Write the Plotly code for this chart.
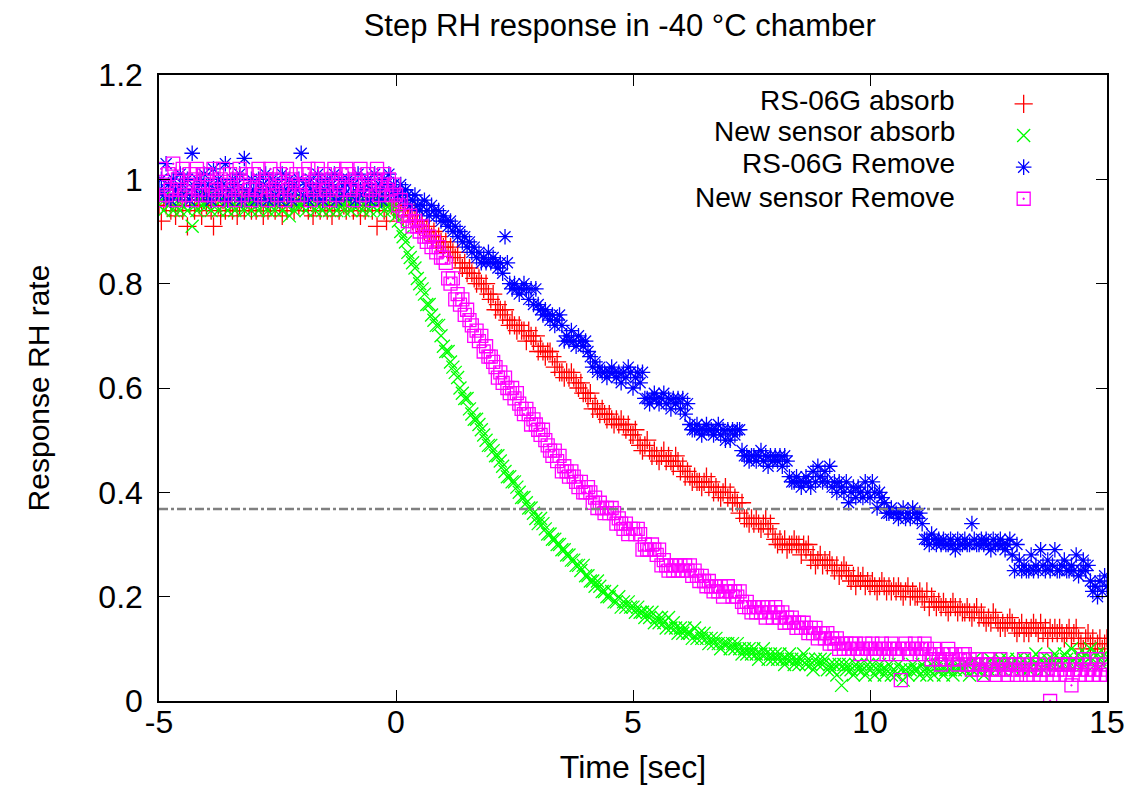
import plotly.graph_objects as go

# ---------------- data ----------------
T_START = -5.0      # first sample time [s]
T_STEP = 0.05       # sampling interval [s]; one row below = one second

rs06g_absorb = [
    0.95, 0.92, 0.96, 0.95, 0.97, 0.94, 0.96, 0.93, 0.95, 0.97, 0.94, 0.96, 0.91, 0.95, 0.97, 0.94, 0.96, 0.95, 0.93, 0.96,
    0.95, 0.96, 0.94, 0.91, 0.97, 0.95, 0.93, 0.96, 0.94, 0.97, 0.95, 0.94, 0.96, 0.93, 0.95, 0.97, 0.94, 0.96, 0.95, 0.94,
    0.96, 0.94, 0.97, 0.95, 0.93, 0.96, 0.94, 0.95, 0.97, 0.94, 0.96, 0.95, 0.93, 0.96, 0.94, 0.97, 0.95, 0.94, 0.96, 0.95,
    0.96, 0.95, 0.97, 0.94, 0.96, 0.93, 0.95, 0.97, 0.94, 0.96, 0.95, 0.94, 0.96, 0.93, 0.95, 0.97, 0.94, 0.96, 0.95, 0.94,
    0.95, 0.96, 0.94, 0.97, 0.95, 0.93, 0.96, 0.94, 0.95, 0.97, 0.94, 0.96, 0.91, 0.95, 0.97, 0.94, 0.92, 0.96, 0.95, 0.94,
    0.95, 0.94, 0.96, 0.93, 0.95, 0.94, 0.93, 0.92, 0.94, 0.92, 0.91, 0.92, 0.90, 0.91, 0.90, 0.89, 0.90, 0.88, 0.89, 0.88,
    0.87, 0.88, 0.86, 0.87, 0.86, 0.85, 0.86, 0.84, 0.83, 0.84, 0.82, 0.83, 0.82, 0.81, 0.80, 0.81, 0.80, 0.79, 0.80, 0.78,
    0.77, 0.78, 0.75, 0.76, 0.75, 0.74, 0.75, 0.73, 0.72, 0.73, 0.72, 0.71, 0.72, 0.71, 0.71, 0.69, 0.71, 0.70, 0.69, 0.70,
    0.67, 0.68, 0.67, 0.66, 0.67, 0.67, 0.66, 0.64, 0.65, 0.63, 0.63, 0.62, 0.63, 0.62, 0.63, 0.62, 0.61, 0.60, 0.61, 0.59,
    0.59, 0.58, 0.59, 0.56, 0.57, 0.56, 0.55, 0.56, 0.55, 0.54, 0.55, 0.54, 0.53, 0.54, 0.53, 0.54, 0.53, 0.52, 0.53, 0.51,
    0.51, 0.52, 0.50, 0.49, 0.48, 0.49, 0.50, 0.48, 0.47, 0.48, 0.47, 0.46, 0.47, 0.48, 0.46, 0.47, 0.46, 0.45, 0.47, 0.46,
    0.44, 0.45, 0.43, 0.44, 0.43, 0.42, 0.43, 0.42, 0.42, 0.41, 0.42, 0.43, 0.41, 0.42, 0.40, 0.41, 0.40, 0.39, 0.40, 0.41,
    0.39, 0.40, 0.38, 0.39, 0.38, 0.36, 0.38, 0.35, 0.35, 0.34, 0.35, 0.34, 0.35, 0.34, 0.33, 0.34, 0.35, 0.33, 0.34, 0.32,
    0.31, 0.30, 0.31, 0.30, 0.31, 0.29, 0.30, 0.30, 0.31, 0.30, 0.30, 0.28, 0.30, 0.29, 0.30, 0.27, 0.28, 0.26, 0.27, 0.28,
    0.26, 0.27, 0.26, 0.27, 0.26, 0.25, 0.26, 0.24, 0.25, 0.26, 0.25, 0.24, 0.23, 0.24, 0.22, 0.24, 0.23, 0.24, 0.22, 0.23,
    0.22, 0.23, 0.22, 0.21, 0.22, 0.23, 0.22, 0.21, 0.22, 0.21, 0.22, 0.21, 0.22, 0.21, 0.20, 0.21, 0.22, 0.20, 0.21, 0.20,
    0.20, 0.21, 0.20, 0.19, 0.21, 0.18, 0.20, 0.19, 0.18, 0.19, 0.18, 0.19, 0.18, 0.17, 0.18, 0.19, 0.18, 0.17, 0.18, 0.17,
    0.17, 0.18, 0.17, 0.16, 0.17, 0.18, 0.16, 0.17, 0.16, 0.15, 0.16, 0.15, 0.17, 0.16, 0.15, 0.14, 0.15, 0.14, 0.15, 0.16,
    0.15, 0.14, 0.13, 0.14, 0.15, 0.13, 0.14, 0.13, 0.14, 0.15, 0.14, 0.13, 0.15, 0.13, 0.14, 0.12, 0.14, 0.13, 0.14, 0.13,
    0.14, 0.13, 0.12, 0.13, 0.14, 0.12, 0.13, 0.14, 0.12, 0.11, 0.10, 0.12, 0.13, 0.11, 0.12, 0.10, 0.11, 0.12, 0.10, 0.11,
    0.12,
]

new_sensor_absorb = [
    0.95, 0.96, 0.94, 0.97, 0.95, 0.96, 0.94, 0.95, 0.96, 0.94, 0.95, 0.97, 0.94, 0.96, 0.91, 0.95, 0.94, 0.96, 0.95, 0.97,
    0.95, 0.96, 0.94, 0.97, 0.95, 0.94, 0.96, 0.95, 0.97, 0.94, 0.96, 0.95, 0.94, 0.96, 0.95, 0.97, 0.94, 0.95, 0.96, 0.94,
    0.96, 0.95, 0.94, 0.97, 0.95, 0.96, 0.94, 0.95, 0.96, 0.94, 0.95, 0.96, 0.94, 0.97, 0.95, 0.93, 0.96, 0.94, 0.95, 0.96,
    0.95, 0.96, 0.94, 0.97, 0.95, 0.96, 0.94, 0.95, 0.96, 0.94, 0.95, 0.97, 0.94, 0.96, 0.95, 0.94, 0.96, 0.95, 0.94, 0.96,
    0.96, 0.94, 0.95, 0.97, 0.95, 0.96, 0.94, 0.95, 0.96, 0.94, 0.95, 0.97, 0.94, 0.96, 0.95, 0.94, 0.96, 0.95, 0.94, 0.95,
    0.93, 0.92, 0.90, 0.89, 0.88, 0.86, 0.85, 0.84, 0.83, 0.81, 0.80, 0.79, 0.78, 0.76, 0.76, 0.74, 0.73, 0.72, 0.72, 0.70,
    0.68, 0.67, 0.67, 0.65, 0.64, 0.63, 0.62, 0.60, 0.59, 0.58, 0.58, 0.56, 0.55, 0.54, 0.54, 0.53, 0.52, 0.51, 0.50, 0.49,
    0.49, 0.48, 0.47, 0.47, 0.46, 0.45, 0.44, 0.43, 0.43, 0.42, 0.42, 0.41, 0.40, 0.39, 0.39, 0.38, 0.37, 0.37, 0.36, 0.35,
    0.34, 0.35, 0.34, 0.33, 0.32, 0.32, 0.31, 0.31, 0.30, 0.30, 0.29, 0.29, 0.28, 0.28, 0.27, 0.27, 0.26, 0.26, 0.25, 0.26,
    0.24, 0.24, 0.23, 0.23, 0.22, 0.23, 0.22, 0.21, 0.21, 0.20, 0.20, 0.21, 0.19, 0.19, 0.20, 0.18, 0.19, 0.18, 0.19, 0.18,
    0.18, 0.17, 0.18, 0.17, 0.17, 0.16, 0.17, 0.16, 0.17, 0.15, 0.16, 0.15, 0.16, 0.15, 0.14, 0.16, 0.14, 0.15, 0.14, 0.13,
    0.14, 0.13, 0.14, 0.13, 0.13, 0.12, 0.14, 0.12, 0.13, 0.12, 0.13, 0.12, 0.11, 0.12, 0.11, 0.12, 0.11, 0.10, 0.11, 0.11,
    0.11, 0.10, 0.11, 0.10, 0.11, 0.10, 0.09, 0.10, 0.09, 0.10, 0.09, 0.10, 0.09, 0.08, 0.09, 0.10, 0.09, 0.08, 0.09, 0.08,
    0.09, 0.08, 0.09, 0.08, 0.07, 0.08, 0.09, 0.08, 0.07, 0.08, 0.07, 0.08, 0.09, 0.07, 0.08, 0.07, 0.06, 0.08, 0.07, 0.08,
    0.07, 0.08, 0.06, 0.07, 0.06, 0.07, 0.05, 0.07, 0.03, 0.07, 0.06, 0.07, 0.06, 0.05, 0.07, 0.06, 0.07, 0.06, 0.05, 0.07,
    0.06, 0.07, 0.05, 0.06, 0.07, 0.06, 0.05, 0.06, 0.07, 0.05, 0.06, 0.05, 0.07, 0.06, 0.04, 0.06, 0.05, 0.06, 0.07, 0.06,
    0.06, 0.05, 0.07, 0.06, 0.05, 0.06, 0.07, 0.05, 0.06, 0.07, 0.06, 0.05, 0.06, 0.07, 0.06, 0.05, 0.06, 0.07, 0.06, 0.07,
    0.06, 0.07, 0.05, 0.06, 0.08, 0.06, 0.07, 0.06, 0.05, 0.07, 0.06, 0.08, 0.07, 0.06, 0.07, 0.08, 0.06, 0.07, 0.08, 0.07,
    0.07, 0.06, 0.08, 0.07, 0.06, 0.08, 0.07, 0.06, 0.08, 0.07, 0.09, 0.07, 0.08, 0.06, 0.07, 0.08, 0.07, 0.08, 0.09, 0.07,
    0.08, 0.07, 0.09, 0.08, 0.07, 0.10, 0.08, 0.07, 0.09, 0.08, 0.07, 0.09, 0.08, 0.10, 0.08, 0.07, 0.09, 0.08, 0.07, 0.09,
    0.08,
]

rs06g_remove = [
    0.98, 1.00, 0.97, 1.03, 0.99, 0.96, 1.00, 0.98, 0.97, 1.01, 0.99, 0.97, 1.00, 0.96, 1.05, 0.98, 1.00, 0.97, 0.99, 1.01,
    0.97, 0.99, 0.96, 1.02, 0.98, 1.00, 0.97, 0.99, 1.03, 0.96, 0.98, 1.00, 0.97, 0.99, 1.01, 0.96, 1.04, 0.98, 0.97, 1.00,
    0.98, 0.96, 1.00, 0.97, 0.99, 1.01, 0.96, 0.98, 1.00, 0.97, 0.99, 0.96, 1.01, 0.98, 0.97, 1.00, 0.96, 0.99, 0.98, 1.00,
    1.05, 0.97, 0.99, 0.96, 1.00, 0.98, 0.97, 1.01, 0.99, 0.96, 0.98, 1.00, 0.97, 0.99, 1.01, 0.96, 0.98, 1.00, 0.97, 0.99,
    1.00, 0.97, 0.99, 0.96, 1.01, 0.98, 0.97, 0.99, 1.00, 0.96, 0.98, 1.01, 0.97, 0.99, 0.96, 1.00, 0.98, 1.01, 0.97, 0.99,
    0.98, 0.97, 0.99, 0.96, 0.98, 0.97, 0.95, 0.96, 0.97, 0.95, 0.94, 0.95, 0.96, 0.94, 0.93, 0.95, 0.94, 0.93, 0.94, 0.92,
    0.93, 0.92, 0.91, 0.92, 0.90, 0.91, 0.89, 0.90, 0.88, 0.89, 0.87, 0.88, 0.86, 0.87, 0.85, 0.86, 0.84, 0.85, 0.84, 0.86,
    0.84, 0.85, 0.84, 0.83, 0.84, 0.82, 0.89, 0.84, 0.80, 0.79, 0.80, 0.79, 0.78, 0.79, 0.80, 0.79, 0.77, 0.79, 0.76, 0.79,
    0.76, 0.75, 0.74, 0.75, 0.74, 0.73, 0.74, 0.72, 0.73, 0.74, 0.72, 0.69, 0.70, 0.69, 0.71, 0.69, 0.68, 0.70, 0.69, 0.68,
    0.69, 0.67, 0.66, 0.64, 0.65, 0.63, 0.64, 0.63, 0.63, 0.62, 0.63, 0.64, 0.63, 0.62, 0.63, 0.61, 0.63, 0.62, 0.64, 0.63,
    0.60, 0.62, 0.63, 0.61, 0.63, 0.58, 0.58, 0.57, 0.58, 0.59, 0.58, 0.57, 0.58, 0.59, 0.57, 0.58, 0.56, 0.58, 0.57, 0.58,
    0.56, 0.58, 0.55, 0.57, 0.53, 0.52, 0.52, 0.53, 0.52, 0.51, 0.52, 0.53, 0.52, 0.52, 0.51, 0.52, 0.53, 0.51, 0.52, 0.50,
    0.52, 0.50, 0.52, 0.51, 0.52, 0.52, 0.48, 0.47, 0.47, 0.46, 0.47, 0.47, 0.46, 0.47, 0.48, 0.46, 0.47, 0.45, 0.47, 0.46,
    0.47, 0.46, 0.47, 0.45, 0.47, 0.46, 0.43, 0.42, 0.42, 0.43, 0.42, 0.41, 0.42, 0.43, 0.42, 0.41, 0.44, 0.42, 0.45, 0.43,
    0.42, 0.44, 0.42, 0.45, 0.41, 0.42, 0.40, 0.42, 0.41, 0.40, 0.42, 0.38, 0.40, 0.41, 0.39, 0.41, 0.40, 0.39, 0.42, 0.40,
    0.39, 0.42, 0.40, 0.37, 0.40, 0.39, 0.38, 0.36, 0.36, 0.37, 0.36, 0.36, 0.35, 0.36, 0.37, 0.35, 0.36, 0.35, 0.37, 0.36,
    0.35, 0.36, 0.34, 0.31, 0.31, 0.30, 0.32, 0.31, 0.30, 0.31, 0.30, 0.31, 0.30, 0.30, 0.31, 0.30, 0.29, 0.31, 0.30, 0.30,
    0.31, 0.30, 0.30, 0.34, 0.31, 0.30, 0.30, 0.31, 0.30, 0.31, 0.30, 0.29, 0.31, 0.30, 0.30, 0.31, 0.30, 0.29, 0.30, 0.31,
    0.28, 0.25, 0.30, 0.27, 0.25, 0.26, 0.25, 0.25, 0.28, 0.25, 0.26, 0.25, 0.29, 0.26, 0.25, 0.27, 0.25, 0.26, 0.29, 0.25,
    0.25, 0.26, 0.27, 0.25, 0.25, 0.26, 0.25, 0.28, 0.24, 0.25, 0.27, 0.25, 0.26, 0.23, 0.21, 0.22, 0.20, 0.23, 0.21, 0.24,
    0.22,
]

new_sensor_remove = [
    0.96, 1.02, 0.99, 0.97, 1.01, 0.98, 1.03, 0.96, 1.00, 0.98, 1.02, 0.97, 0.99, 1.01, 0.96, 1.00, 1.02, 0.98, 0.97, 1.01,
    1.01, 0.97, 0.99, 1.02, 0.98, 0.96, 1.00, 1.02, 0.97, 0.99, 1.01, 0.98, 0.96, 1.00, 1.02, 0.97, 0.99, 1.01, 0.98, 0.96,
    1.01, 0.98, 1.02, 0.97, 0.99, 1.00, 0.96, 1.02, 0.98, 1.00, 0.97, 1.01, 0.99, 0.96, 1.02, 0.98, 1.00, 0.97, 1.01, 0.99,
    0.97, 1.01, 0.99, 1.02, 0.96, 0.98, 1.00, 1.02, 0.97, 0.99, 1.01, 0.98, 0.96, 1.00, 1.02, 0.97, 0.99, 1.01, 0.98, 1.02,
    1.01, 0.98, 0.96, 1.00, 0.99, 1.02, 0.97, 0.99, 1.01, 0.98, 0.96, 1.00, 1.02, 0.97, 0.99, 1.01, 0.98, 1.00, 0.97, 0.99,
    0.97, 0.95, 0.96, 0.93, 0.94, 0.92, 0.93, 0.91, 0.92, 0.91, 0.90, 0.91, 0.89, 0.88, 0.89, 0.87, 0.88, 0.86, 0.87, 0.85,
    0.85, 0.84, 0.81, 0.80, 0.81, 0.77, 0.78, 0.76, 0.77, 0.74, 0.75, 0.73, 0.72, 0.70, 0.71, 0.69, 0.70, 0.67, 0.68, 0.66,
    0.66, 0.65, 0.64, 0.62, 0.63, 0.61, 0.62, 0.60, 0.59, 0.60, 0.58, 0.59, 0.57, 0.56, 0.55, 0.56, 0.55, 0.53, 0.54, 0.53,
    0.52, 0.51, 0.52, 0.50, 0.49, 0.48, 0.47, 0.48, 0.46, 0.47, 0.44, 0.45, 0.44, 0.43, 0.44, 0.43, 0.42, 0.41, 0.42, 0.40,
    0.40, 0.41, 0.40, 0.38, 0.39, 0.37, 0.38, 0.37, 0.36, 0.37, 0.36, 0.37, 0.36, 0.34, 0.35, 0.34, 0.33, 0.34, 0.32, 0.33,
    0.33, 0.32, 0.33, 0.32, 0.29, 0.30, 0.29, 0.29, 0.30, 0.29, 0.28, 0.29, 0.26, 0.27, 0.26, 0.25, 0.26, 0.25, 0.26, 0.25,
    0.26, 0.25, 0.26, 0.25, 0.26, 0.24, 0.25, 0.24, 0.23, 0.24, 0.23, 0.22, 0.23, 0.22, 0.21, 0.22, 0.21, 0.22, 0.20, 0.21,
    0.22, 0.21, 0.20, 0.21, 0.20, 0.21, 0.19, 0.18, 0.19, 0.18, 0.17, 0.18, 0.17, 0.18, 0.17, 0.18, 0.16, 0.18, 0.17, 0.16,
    0.18, 0.17, 0.16, 0.17, 0.15, 0.16, 0.15, 0.16, 0.15, 0.14, 0.15, 0.14, 0.15, 0.14, 0.13, 0.14, 0.13, 0.14, 0.12, 0.13,
    0.13, 0.12, 0.13, 0.11, 0.12, 0.11, 0.12, 0.10, 0.11, 0.10, 0.11, 0.10, 0.11, 0.10, 0.11, 0.10, 0.09, 0.10, 0.11, 0.10,
    0.10, 0.11, 0.10, 0.09, 0.10, 0.11, 0.10, 0.09, 0.10, 0.11, 0.10, 0.09, 0.10, 0.04, 0.10, 0.11, 0.10, 0.09, 0.10, 0.11,
    0.10, 0.09, 0.10, 0.11, 0.10, 0.09, 0.08, 0.10, 0.09, 0.08, 0.07, 0.09, 0.08, 0.10, 0.09, 0.08, 0.09, 0.07, 0.08, 0.09,
    0.09, 0.07, 0.08, 0.06, 0.07, 0.08, 0.06, 0.07, 0.05, 0.07, 0.08, 0.06, 0.07, 0.05, 0.06, 0.08, 0.07, 0.06, 0.05, 0.07,
    0.06, 0.07, 0.05, 0.07, 0.06, 0.08, 0.05, 0.06, 0.07, 0.05, 0.06, 0.07, 0.05, 0.06, 0.08, 0.06, 0.00, 0.05, 0.07, 0.06,
    0.05, 0.07, 0.06, 0.05, 0.07, 0.03, 0.06, 0.07, 0.05, 0.06, 0.08, 0.05, 0.06, 0.07, 0.05, 0.06, 0.08, 0.05, 0.06, 0.07,
    0.05,
]

series_names = ["RS-06G absorb", "New sensor absorb", "RS-06G Remove", "New sensor Remove"]
threshold = 0.3679   # 1/e reference level

x_ticks = [-5, 0, 5, 10, 15]
y_ticks = [0, 0.2, 0.4, 0.6, 0.8, 1.0, 1.2]
y_tick_text = ["0", "0.2", "0.4", "0.6", "0.8", "1", "1.2"]

# ---------------- figure ----------------
FONT = "Liberation Sans, Arial, Helvetica, sans-serif"

def times(n):
    return [round(T_START + i * T_STEP, 3) for i in range(n)]

styles = [
    dict(symbol="cross-thin", color="#ff0000"),
    dict(symbol="x-thin", color="#00ff00"),
    dict(symbol="asterisk", color="#0000ff"),
    dict(symbol="square-open-dot", color="#ff00ff"),
]
all_series = [rs06g_absorb, new_sensor_absorb, rs06g_remove, new_sensor_remove]

fig = go.Figure()
for name, vals, st in zip(series_names, all_series, styles):
    mk = dict(symbol=st["symbol"], size=13, color=st["color"],
              line=dict(color=st["color"], width=1.3))
    fig.add_trace(go.Scatter(
        x=times(len(vals)), y=vals, mode="markers", name=name,
        legendgroup=name, showlegend=False, marker=mk,
    ))
    # legend key only (symbol drawn by the legend, label drawn as right-aligned text)
    fig.add_trace(go.Scatter(
        x=[None], y=[None], mode="markers", name=" ", legendgroup=name,
        showlegend=True, marker=mk, hoverinfo="skip",
    ))

fig.add_hline(y=threshold, line=dict(color="#808080", width=2.5, dash="dashdot"))

# legend labels, right-aligned (gnuplot style)
legend_label_y = [0.960, 0.909, 0.858, 0.805]
for name, yy in zip(series_names, legend_label_y):
    fig.add_annotation(text=name, xref="paper", yref="paper", x=0.842, y=yy,
                       xanchor="right", yanchor="middle", showarrow=False,
                       font=dict(family=FONT, size=28, color="black"))

axis_common = dict(
    showline=True, linecolor="black", linewidth=1.5, mirror="ticks",
    ticks="inside", ticklen=11, tickwidth=1.2, tickcolor="black",
    showgrid=False, zeroline=False,
    tickfont=dict(family=FONT, size=32, color="black"),
)

fig.update_layout(
    width=1139, height=803,
    margin=dict(l=151, r=40, t=67, b=110),
    paper_bgcolor="white", plot_bgcolor="white",
    font=dict(family=FONT, size=32, color="black"),
    title=dict(text="Step RH response in -40 °C chamber", x=0.486, xref="paper",
               xanchor="center", y=1.0, yanchor="top", pad=dict(t=6),
               font=dict(family=FONT, size=31, color="black")),
    xaxis=dict(range=[-5, 15], tickvals=x_ticks, ticktext=[str(v) for v in x_ticks],
               ticklabelstandoff=-8,
               title=dict(text="Time [sec]", standoff=16,
                          font=dict(family=FONT, size=32, color="black")),
               **axis_common),
    yaxis=dict(range=[0, 1.2], tickvals=y_ticks, ticktext=y_tick_text,
               ticklabelstandoff=8,
               title=dict(text="Response RH rate", standoff=40,
                          font=dict(family=FONT, size=30, color="black")),
               **axis_common),
    legend=dict(x=0.891, y=0.987, xanchor="left", yanchor="top",
                bgcolor="rgba(0,0,0,0)", borderwidth=0,
                font=dict(family=FONT, size=22, color="black"),
                tracegroupgap=0, itemwidth=30),
    showlegend=True,
)

fig.write_html("out.html")
